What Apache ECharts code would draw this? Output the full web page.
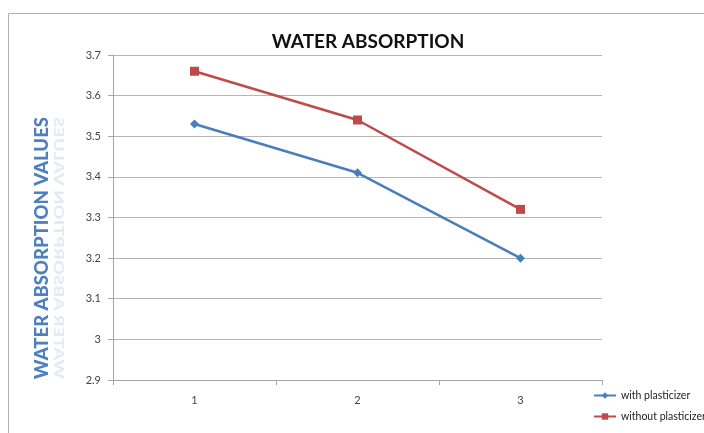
<!DOCTYPE html>
<html>
<head>
<meta charset="utf-8">
<script src="https://cdn.jsdelivr.net/npm/echarts@6/dist/echarts.min.js"></script>
<style>
html,body{margin:0;padding:0;background:#fff;}
#chart{width:704px;height:433px;}
</style>
</head>
<body>
<div id="chart"></div>
<script>
// Sample numbers along the x axis
const categories = ['1', '2', '3'];
// Water absorption readings
const withPlasticizer = [3.53, 3.41, 3.20];
const withoutPlasticizer = [3.66, 3.54, 3.32];
const yTicks = { min: 2.9, max: 3.7, step: 0.1 };

const chart = echarts.init(document.getElementById('chart'));
const yTitle = 'WATER ABSORPTION VALUES';

chart.setOption({
  animation: false,
  backgroundColor: '#fff',
  title: {
    text: 'WATER ABSORPTION',
    left: 363, top: 27, textAlign: 'center',
    textStyle: { fontFamily: 'Lato', fontWeight: 'bold', fontSize: 19, color: '#111' }
  },
  grid: { left: 113, right: 102, top: 55, bottom: 53 },
  legend: {
    orient: 'vertical', left: 588, top: 385, itemGap: 10,
    itemWidth: 22, itemHeight: 8,
    textStyle: { fontFamily: 'Lato', fontSize: 10.5, color: '#222' },
    data: ['with plasticizer', 'without plasticizer']
  },
  xAxis: {
    type: 'category', data: categories, boundaryGap: true,
    axisLine: { lineStyle: { color: '#a6a6a6' } },
    axisTick: { show: true, length: 5, lineStyle: { color: '#a6a6a6' } },
    axisLabel: { color: '#444', fontSize: 11, margin: 15, fontFamily: 'Lato' }
  },
  yAxis: {
    type: 'value', min: yTicks.min, max: yTicks.max, interval: yTicks.step,
    axisLine: { show: true, lineStyle: { color: '#a6a6a6' } },
    axisTick: { show: true, length: 5, lineStyle: { color: '#a6a6a6' } },
    axisLabel: { color: '#444', fontSize: 11, margin: 12, fontFamily: 'Lato',
      formatter: v => String(Math.round(v * 10) / 10) },
    splitLine: { lineStyle: { color: '#b5b5b5' } }
  },
  graphic: [
    { type: 'rect', shape: { x: 8.5, y: 13.5, width: 720, height: 440 },
      style: { fill: 'none', stroke: '#b0b0b0', lineWidth: 1 }, silent: true },
    // faded mirror of the axis title
    { type: 'text', x: 52, y: 248, rotation: Math.PI / 2, scaleY: -0.7,
      style: { text: yTitle, fill: 'rgba(120,150,200,0.2)', fontFamily: 'Lato',
        fontWeight: 900, fontSize: 18.5, align: 'center', verticalAlign: 'bottom' } },
    { type: 'text', x: 52, y: 248, rotation: Math.PI / 2,
      style: { text: yTitle, fill: '#4e7fbf', fontFamily: 'Lato',
        fontWeight: 900, fontSize: 18.5, align: 'center', verticalAlign: 'bottom' } }
  ],
  series: [
    { name: 'with plasticizer', type: 'line', data: withPlasticizer,
      symbol: 'diamond', symbolSize: 9,
      lineStyle: { color: '#4a7ebb', width: 2.5 },
      itemStyle: { color: '#4a7ebb' } },
    { name: 'without plasticizer', type: 'line', data: withoutPlasticizer,
      symbol: 'rect', symbolSize: 9,
      lineStyle: { color: '#be4b48', width: 2.5 },
      itemStyle: { color: '#be4b48' } }
  ]
});
</script>
</body>
</html>
